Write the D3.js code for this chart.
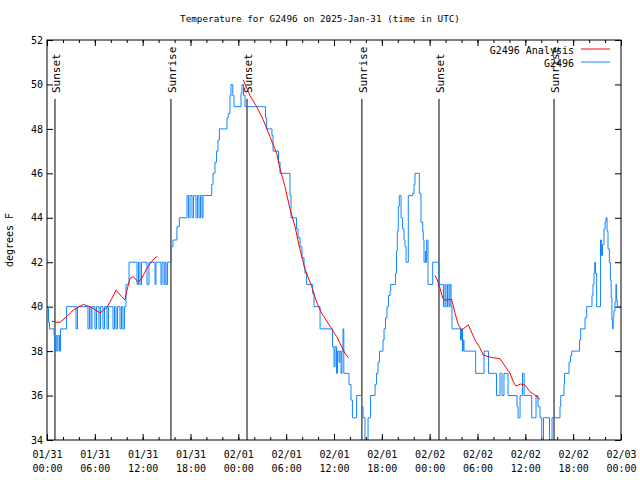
<!DOCTYPE html>
<html><head><meta charset="utf-8">
<script src="https://cdn.jsdelivr.net/npm/d3@7"></script>
<style>
html,body{margin:0;padding:0;background:#fff;}
svg{display:block;}
text{font-family:"DejaVu Sans Mono","Liberation Mono",monospace;font-size:10px;fill:#000;}
</style></head>
<body>
<script>
// ---- data (hours after 2025-01-31 00:00 UTC, degrees F) ----
const titleText = "Temperature for G2496 on 2025-Jan-31 (time in UTC)";
const yLabel = "degrees F";
const seriesNames = ["G2496 Analysis", "G2496"];
const yTicks = [34,36,38,40,42,44,46,48,50,52];

const obsHours = [0,0.19,0.31,0.88,1.0,1.13,1.25,1.38,1.57,1.69,2.45,3.64,3.83,5.14,5.33,5.52,5.64,6.02,6.21,6.52,6.71,7.02,7.21,7.53,7.71,8.28,8.47,8.66,8.84,9.16,9.35,9.53,9.72,9.91,10.29,11.29,11.48,11.66,11.85,12.54,12.79,13.55,13.67,14.3,14.43,14.68,14.8,14.93,15.12,
15.62,15.8,16.3,16.6,17.56,17.75,17.94,18.19,18.38,18.69,18.88,19.07,19.26,19.44,19.57,20.66,20.82,21.07,21.26,21.45,21.62,22.58,22.74,22.95,23.08,23.3,23.46,24.34,24.46,24.65,24.84,27.41,27.56,28.22,28.35,29.04,29.23,30.48,30.61,31.3,31.49,31.74,31.99,32.24,32.36,32.57,33.32,33.49,34.25,
35.81,36.0,36.13,36.31,36.44,36.63,36.75,36.88,37.0,37.13,37.23,37.88,38.13,38.31,38.83,39.45,39.64,39.89,40.08,40.27,40.58,41.15,41.33,41.52,41.71,42.15,42.28,42.46,42.65,42.84,43.03,43.11,43.71,43.84,43.94,44.06,44.19,44.41,44.6,44.78,44.91,45.04,45.32,45.87,46.04,46.16,46.7,46.91,47.13,47.2,47.29,47.47,47.54,47.63,47.79,48.38,49.17,49.73,49.92,50.05,50.24,50.42,50.55,50.68,50.8,51.87,52.0,52.12,52.22,52.31,53.77,54.82,55.38,56.38,56.82,57.07,57.32,57.83,58.96,59.09,59.34,59.65,59.85,60.8,61.34,61.59,61.84,62.06,62.28,63.03,63.35,64.35,64.44,64.85,64.92,65.48,65.67,65.82,66.8,66.94,67.49,67.7,68.36,68.48,68.61,68.7,68.8,68.95,69.43,69.55,69.68,69.87,70.0,70.12,70.25,70.37,70.54,70.67,70.77,70.86,70.95,71.02,71.11,71.24,71.36,71.45,71.53,72];
const obsTemps = [40,39.3,39,38.7,38,38.7,38,38.7,38,39,40,39,40,39,40,39,40,39,40,39,40,39,40,39,40,39,40,39,40,39,40,39,40,41,42,41,42,41,42,41,42,41,42,41,42,41,42,41,42,
42.7,43,43.6,44,45,44,45,44,45,44,45,44,45,44,45,45.5,46,46.5,47,47.5,48,48.5,48.7,49.5,50,49.5,49,49.6,50,49.5,49,48.5,48,47.7,47,46.5,46,45,44,43.5,43.1,42.7,42.2,41.8,41.5,41,40.6,40,39,
38.2,37.3,38.2,37,38,37.5,38,37,38,39,37,36.5,35.8,35,36,35.5,35,34,34,35,36,36.5,37,37.5,38,38.5,39,39.5,40,40.5,40.7,41,41.5,42.5,43.4,44.5,45,44,43.5,43,42.7,42,45,45.1,45.5,46,45.1,43.8,43.4,43,42,42.5,42,43,41,42,41,40,41,40,41,40,41,40,39,38.5,39,38,38.5,38,37,38,37,36,37,36,37,36,35.5,35,36,37,36,35,36,35.5,35,34,35,34,35,35.5,36,36.5,37,37.5,37.8,38,38.5,39,39.5,40,40.5,41,41.5,42,41.5,40,43,42.3,42.8,43.5,43.8,44,43.4,42.6,42,41.2,40.4,39.4,39,39.5,39.8,40.2,41,40.3,40,40];

const anaHours1 = [0.59,1.22,1.63,2.47,3.3,4.55,5.39,6.65,7.49,8.12,8.66,9.37,9.78,10.0,10.41,10.83,11.45,11.88,12.51,13.13,13.55,13.84];
const anaTemps1 = [39.35,39.3,39.3,39.55,39.85,40.1,40.0,39.72,39.95,40.35,40.75,40.45,40.3,40.7,41.27,41.35,41.1,41.27,41.72,42.02,42.2,42.25];
const anaHours2 = [24.62,25.46,26.3,27.13,27.97,28.81,29.23,29.85,30.48,31.11,31.65,32.36,33.2,33.83,34.46,35.09,35.71,36.34,36.75,37.38,37.79];
const anaTemps2 = [50.2,49.5,49.0,48.4,47.65,46.9,46.2,45.4,44.4,43.6,42.7,41.7,40.9,40.2,39.7,39.35,39.0,38.65,38.35,37.9,37.7];
const anaHours3 = [48.67,48.96,49.3,49.64,49.92,50.76,51.18,51.59,52.02,52.85,53.69,54.23,54.73,55.36,55.98,56.82,57.45,58.08,58.49,58.83,59.42,59.96,60.59,61.21,61.84];
const anaTemps3 = [41.4,41.2,40.83,40.38,40.3,40.33,39.7,39.18,38.95,39.18,38.5,38.2,37.82,37.75,37.7,37.66,37.33,37.0,36.62,36.43,36.52,36.47,36.17,36.02,35.83];

const sunHours = [1.0,15.55,25.09,39.5,49.17,63.6];
const sunLabels = ["Sunset","Sunrise","Sunset","Sunrise","Sunset","Sunrise"];

// ---- drawing ----
const W=640,H=480, L=47,R=621,T=40,B=440;
const t0 = Date.UTC(2025,0,31);
const toDate = h => new Date(t0 + h*3600000);
const x = d3.scaleUtc().domain([toDate(0), toDate(72)]).range([L,R]);
const y = d3.scaleLinear().domain([34,52]).range([B,T]);
const blue = "#1285ff", red = "#ff0000";

const svg = d3.select("body").append("svg").attr("width",W).attr("height",H);
svg.append("defs").append("clipPath").attr("id","clip")
  .append("rect").attr("x",L).attr("y",T).attr("width",R-L).attr("height",B-T);

svg.append("text").attr("x",(L+R)/2-14).attr("y",22).attr("text-anchor","middle").style("font-size","9.3px").text(titleText);
svg.append("text").attr("transform",`translate(13,${(T+B)/2}) rotate(-90)`).attr("text-anchor","middle").text(yLabel);

const majorTicks = d3.utcHour.every(6).range(toDate(0), toDate(72.01));
const minorTicks = d3.utcHour.every(2).range(toDate(0), toDate(72.01));

function styleAxis(g){ g.select(".domain").remove(); g.selectAll("line").attr("stroke","#000"); g.selectAll("text").style("font-size","10px").attr("font-family",null); }

// minor x ticks bottom/top
svg.append("g").attr("transform",`translate(0,${B})`).call(d3.axisBottom(x).tickValues(minorTicks).tickSize(-3).tickFormat("")).call(styleAxis);
svg.append("g").attr("transform",`translate(0,${T})`).call(d3.axisTop(x).tickValues(minorTicks).tickSize(-3).tickFormat("")).call(styleAxis);
// major x ticks bottom
const fmtD = d3.utcFormat("%m/%d"), fmtT = d3.utcFormat("%H:%M");
const xb = svg.append("g").attr("transform",`translate(0,${B})`)
  .call(d3.axisBottom(x).tickValues(majorTicks).tickSize(-6).tickPadding(8).tickFormat(fmtD)).call(styleAxis);
xb.selectAll(".tick text").each(function(d){
  const s=d3.select(this); s.text(null).attr("dy",null).attr("y",null);
  s.append("tspan").attr("x",0).attr("y",18).text(fmtD(d));
  s.append("tspan").attr("x",0).attr("y",32).text(fmtT(d));
});
svg.append("g").attr("transform",`translate(0,${T})`).call(d3.axisTop(x).tickValues(majorTicks).tickSize(-6).tickFormat("")).call(styleAxis);
// y ticks
svg.append("g").attr("transform",`translate(${L},0)`).call(d3.axisLeft(y).tickValues(yTicks).tickSize(-6).tickPadding(4)).call(styleAxis);
svg.append("g").attr("transform",`translate(${R},0)`).call(d3.axisRight(y).tickValues(yTicks).tickSize(-6).tickFormat("")).call(styleAxis);

// sun lines
const sun = svg.append("g");
sunHours.forEach((h,i)=>{
  const xx = x(toDate(h));
  sun.append("line").attr("x1",xx).attr("x2",xx).attr("y1",y(49.35)).attr("y2",B).attr("stroke","#000").attr("stroke-width",1);
  sun.append("text").attr("transform",`translate(${xx+5},93) rotate(-90)`).attr("text-anchor","start").style("font-size","11px").text(sunLabels[i]);
});

// series
const plot = svg.append("g").attr("clip-path","url(#clip)");
const obs = obsHours.map((h,i)=>[toDate(h), obsTemps[i]]);
plot.append("path").datum(obs).attr("fill","none").attr("stroke",blue).attr("stroke-width",1)
  .attr("d", d3.line().x(d=>x(d[0])).y(d=>y(d[1])).curve(d3.curveStepAfter));
const lineA = d3.line().x(d=>x(d[0])).y(d=>y(d[1]));
[[anaHours1,anaTemps1],[anaHours2,anaTemps2],[anaHours3,anaTemps3]].forEach(([hs,ts])=>{
  plot.append("path").datum(hs.map((h,i)=>[toDate(h),ts[i]])).attr("fill","none").attr("stroke",red).attr("stroke-width",1).attr("d",lineA);
});

// frame
svg.append("rect").attr("x",L).attr("y",T).attr("width",R-L).attr("height",B-T).attr("fill","none").attr("stroke","#000").attr("stroke-width",1);

// legend
const lg = svg.append("g");
[[seriesNames[0],red,50],[seriesNames[1],blue,63]].forEach(([n,c,yy])=>{
  lg.append("text").attr("x",574).attr("y",yy).attr("dy","0.35em").attr("text-anchor","end").text(n);
  lg.append("line").attr("x1",581).attr("x2",610).attr("y1",yy-1).attr("y2",yy-1).attr("stroke",c).attr("stroke-width",1);
});
</script>
</body></html>
